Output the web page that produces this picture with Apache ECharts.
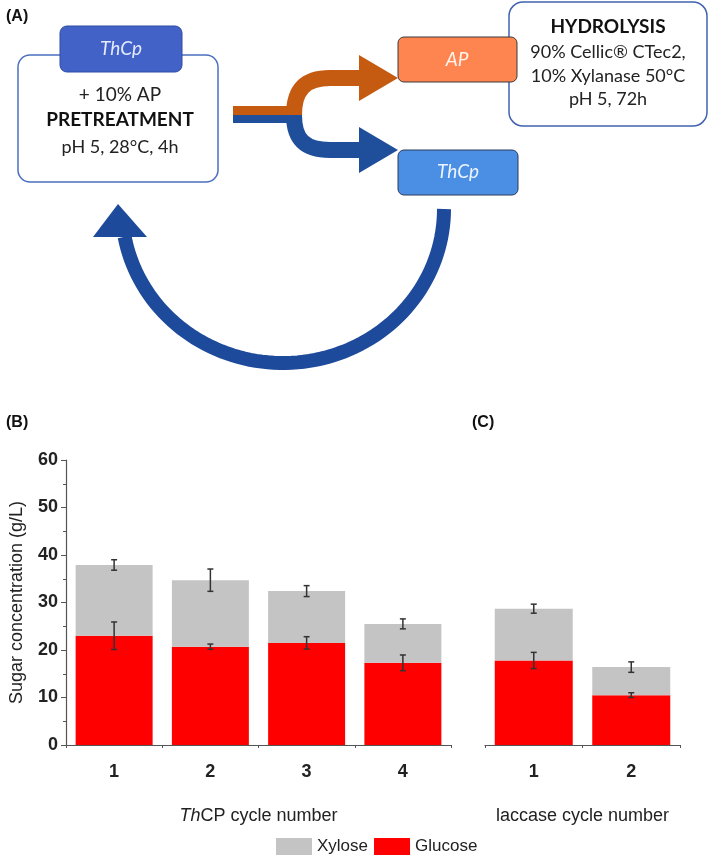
<!DOCTYPE html>
<html>
<head>
<meta charset="utf-8">
<script src="https://cdn.jsdelivr.net/npm/echarts@6/dist/echarts.min.js"></script>
<style>
html,body{margin:0;padding:0;background:#fff;}
#chart{width:709px;height:858px;}
</style>
</head>
<body>
<div id="chart"></div>
<script>
// ---- data ----
const categoriesB = ['1', '2', '3', '4'];
const categoriesC = ['1', '2'];
const glucoseB = [23.0, 20.7, 21.5, 17.3];
const xyloseB = [14.9, 14.0, 10.9, 8.2];
const glucoseErrB = [2.9, 0.55, 1.3, 1.65];
const totalErrB = [1.1, 2.35, 1.15, 1.05];
const glucoseC = [17.8, 10.5];
const xyloseC = [10.9, 5.9];
const glucoseErrC = [1.7, 0.5];
const totalErrC = [0.95, 1.1];
const yMin = 0, yMax = 60, yStep = 10;
const seriesNames = ['Xylose', 'Glucose'];

const FONT = 'Liberation Sans, Arial, sans-serif';
const DFONT = 'Lato, Carlito, sans-serif';
const RED = '#FF0000', GRAY = '#C4C4C4';
const AXC = '#555';

function errData(glu, xyl, gErr, tErr) {
  const out = [];
  glu.forEach((g, i) => {
    out.push([i, g, gErr[i]]);
    out.push([i, g + xyl[i], tErr[i]]);
  });
  return out;
}
function renderErr(params, api) {
  const i = api.value(0), c = api.value(1), e = api.value(2);
  const lo = api.coord([i, c - e]);
  const hi = api.coord([i, c + e]);
  const hw = 3;
  const st = {stroke: '#333', lineWidth: 1.5};
  return {
    type: 'group',
    children: [
      {type: 'line', shape: {x1: lo[0], y1: lo[1], x2: hi[0], y2: hi[1]}, style: st},
      {type: 'line', shape: {x1: lo[0] - hw, y1: lo[1], x2: lo[0] + hw, y2: lo[1]}, style: st},
      {type: 'line', shape: {x1: hi[0] - hw, y1: hi[1], x2: hi[0] + hw, y2: hi[1]}, style: st}
    ]
  };
}

// big return arc points (decoration)
const arcPts = [];
for (let k = 0; k <= 80; k++) {
  const t = 2.96 * k / 80;
  arcPts.push([283 + 161 * Math.cos(t), 209 + 154 * Math.sin(t)]);
}

function txt(x, y, s, opt) {
  return {
    type: 'text', x: x, y: y,
    style: Object.assign({text: s, fill: '#222', font: '18px ' + DFONT, align: 'center', verticalAlign: 'middle'}, opt || {})
  };
}

const graphics = [
  // panel labels
  {type: 'text', x: 6, y: 17, style: {text: '(A)', font: 'bold 16px ' + FONT, fill: '#111', verticalAlign: 'middle'}},
  {type: 'text', x: 6, y: 423, style: {text: '(B)', font: 'bold 16px ' + FONT, fill: '#111', verticalAlign: 'middle'}},
  {type: 'text', x: 472, y: 423, style: {text: '(C)', font: 'bold 16px ' + FONT, fill: '#111', verticalAlign: 'middle'}},
  // left pretreatment box
  {type: 'rect', shape: {x: 18, y: 55, width: 200, height: 127, r: 12}, style: {fill: '#fff', stroke: '#4A6FC0', lineWidth: 1.5}},
  {type: 'rect', shape: {x: 60, y: 26, width: 122, height: 46, r: 7}, style: {fill: '#4262C8', stroke: '#2E4A9E', lineWidth: 1}},
  txt(121, 49, 'ThCp', {fill: '#E3EAFA', font: 'italic 19px ' + DFONT}),
  txt(120, 95, '+ 10% AP', {font: '19px ' + DFONT}),
  txt(120, 120, 'PRETREATMENT', {font: 'bold 19px ' + DFONT, fill: '#111'}),
  txt(120, 147, 'pH 5, 28°C, 4h', {font: '18px ' + DFONT}),
  // hydrolysis box
  {type: 'rect', shape: {x: 509, y: 2, width: 198, height: 124, r: 14}, style: {fill: '#fff', stroke: '#3F63B0', lineWidth: 1.5}},
  txt(608, 27, 'HYDROLYSIS', {font: 'bold 19px ' + DFONT, fill: '#111'}),
  txt(608, 52, '90% Cellic® CTec2,', {font: '18px ' + DFONT}),
  txt(608, 76, '10% Xylanase 50°C', {font: '18px ' + DFONT}),
  txt(608, 99, 'pH 5, 72h', {font: '18px ' + DFONT}),
  // fork arrow
  {type: 'rect', shape: {x: 233, y: 106, width: 61, height: 9}, style: {fill: '#C55A11'}},
  {type: 'rect', shape: {x: 233, y: 115, width: 61, height: 8}, style: {fill: '#1F4E9B'}},
  {type: 'bezierCurve', shape: {x1: 294, y1: 115, cpx1: 294, cpy1: 90, cpx2: 305, cpy2: 78, x2: 330, y2: 78}, style: {fill: null, stroke: '#C55A11', lineWidth: 16}},
  {type: 'line', shape: {x1: 329, y1: 78, x2: 361, y2: 78}, style: {stroke: '#C55A11', lineWidth: 16}},
  {type: 'bezierCurve', shape: {x1: 294, y1: 115, cpx1: 294, cpy1: 140, cpx2: 305, cpy2: 150, x2: 330, y2: 150}, style: {fill: null, stroke: '#1F4E9B', lineWidth: 16}},
  {type: 'line', shape: {x1: 329, y1: 150, x2: 361, y2: 150}, style: {stroke: '#1F4E9B', lineWidth: 16}},
  {type: 'polygon', shape: {points: [[359, 55], [398, 78], [359, 101]]}, style: {fill: '#C55A11'}},
  {type: 'polygon', shape: {points: [[359, 127], [398, 150], [359, 173]]}, style: {fill: '#1F4E9B'}},
  // AP box and ThCp box
  {type: 'rect', shape: {x: 398, y: 37, width: 119, height: 45, r: 6}, style: {fill: '#FF8550', stroke: '#3A3A3A', lineWidth: 1}},
  txt(457, 60, 'AP', {fill: '#FFF3EC', font: 'italic 19px ' + DFONT}),
  {type: 'rect', shape: {x: 398, y: 150, width: 120, height: 45, r: 6}, style: {fill: '#4A8FE3', stroke: '#2A3A5A', lineWidth: 1}},
  txt(458, 172, 'ThCp', {fill: '#EEF4FF', font: 'italic 19px ' + DFONT}),
  // return arc
  {type: 'polyline', shape: {points: arcPts}, style: {fill: null, stroke: '#1D4A9A', lineWidth: 14}},
  {type: 'polygon', shape: {points: [[93, 237], [147, 237], [118, 204]]}, style: {fill: '#1D4A9A'}}
];

const yAxisCommon = {
  type: 'value', min: yMin, max: yMax, interval: yStep,
  splitLine: {show: false}
};
const xTickAxis = (gi, data) => ({
  type: 'category', gridIndex: gi, data: data, position: 'bottom',
  axisLine: {show: false}, axisLabel: {show: false},
  axisTick: {show: true, alignWithLabel: false, length: 3, lineStyle: {color: AXC, width: 1}}
});

const option = {
  animation: false,
  backgroundColor: '#fff',
  textStyle: {fontFamily: FONT},
  graphic: graphics,
  legend: {
    data: seriesNames,
    left: 276, top: 838,
    itemWidth: 36, itemHeight: 17, itemGap: 6,
    textStyle: {fontSize: 17, color: '#222', fontFamily: FONT},
    icon: 'rect', padding: 0
  },
  grid: [
    {left: 61, top: 460, width: 390, height: 285, containLabel: false},
    {left: 485, top: 460, width: 195, height: 285, containLabel: false}
  ],
  xAxis: [
    {
      type: 'category', gridIndex: 0, data: categoriesB,
      name: '{i|Th}CP cycle number', nameLocation: 'middle', nameGap: 62,
      nameTextStyle: {fontSize: 18, color: '#222', fontFamily: FONT, rich: {i: {fontStyle: 'italic', fontSize: 18, color: '#222', fontFamily: FONT}}},
      axisLine: {lineStyle: {color: AXC, width: 1.2}},
      axisTick: {alignWithLabel: true, length: 5, lineStyle: {color: AXC}},
      axisLabel: {fontSize: 18, fontWeight: 'bold', color: '#222', margin: 18, fontFamily: FONT}
    },
    {
      type: 'category', gridIndex: 1, data: categoriesC,
      name: 'laccase cycle number', nameLocation: 'middle', nameGap: 62,
      nameTextStyle: {fontSize: 18, color: '#222', fontFamily: FONT},
      axisLine: {lineStyle: {color: AXC, width: 1.2}},
      axisTick: {alignWithLabel: true, length: 5, lineStyle: {color: AXC}},
      axisLabel: {fontSize: 18, fontWeight: 'bold', color: '#222', margin: 18, fontFamily: FONT}
    },
    xTickAxis(0, categoriesB),
    xTickAxis(1, categoriesC)
  ],
  yAxis: [
    Object.assign({}, yAxisCommon, {
      gridIndex: 0,
      name: 'Sugar concentration (g/L)', nameLocation: 'middle', nameGap: 40,
      nameTextStyle: {fontSize: 18, color: '#222', fontFamily: FONT},
      axisLine: {show: true, lineStyle: {color: AXC, width: 1.2}},
      axisTick: {show: true, length: 5, lineStyle: {color: AXC}},
      minorTick: {show: true, splitNumber: 2, length: 3, lineStyle: {color: AXC}},
      axisLabel: {fontSize: 18, fontWeight: 'bold', color: '#222', margin: 8, fontFamily: FONT}
    }),
    Object.assign({}, yAxisCommon, {gridIndex: 1, show: false})
  ],
  series: [
    {name: 'Glucose', type: 'bar', stack: 'b', xAxisIndex: 0, yAxisIndex: 0, data: glucoseB, barWidth: '80%', itemStyle: {color: RED}},
    {name: 'Xylose', type: 'bar', stack: 'b', xAxisIndex: 0, yAxisIndex: 0, data: xyloseB, barWidth: '80%', itemStyle: {color: GRAY}},
    {name: 'Glucose', type: 'bar', stack: 'c', xAxisIndex: 1, yAxisIndex: 1, data: glucoseC, barWidth: '80%', itemStyle: {color: RED}},
    {name: 'Xylose', type: 'bar', stack: 'c', xAxisIndex: 1, yAxisIndex: 1, data: xyloseC, barWidth: '80%', itemStyle: {color: GRAY}},
    {type: 'custom', xAxisIndex: 0, yAxisIndex: 0, z: 5, renderItem: renderErr, data: errData(glucoseB, xyloseB, glucoseErrB, totalErrB)},
    {type: 'custom', xAxisIndex: 1, yAxisIndex: 1, z: 5, renderItem: renderErr, data: errData(glucoseC, xyloseC, glucoseErrC, totalErrC)}
  ]
};

const chart = echarts.init(document.getElementById('chart'), null, {renderer: 'canvas'});
chart.setOption(option);
</script>
</body>
</html>
